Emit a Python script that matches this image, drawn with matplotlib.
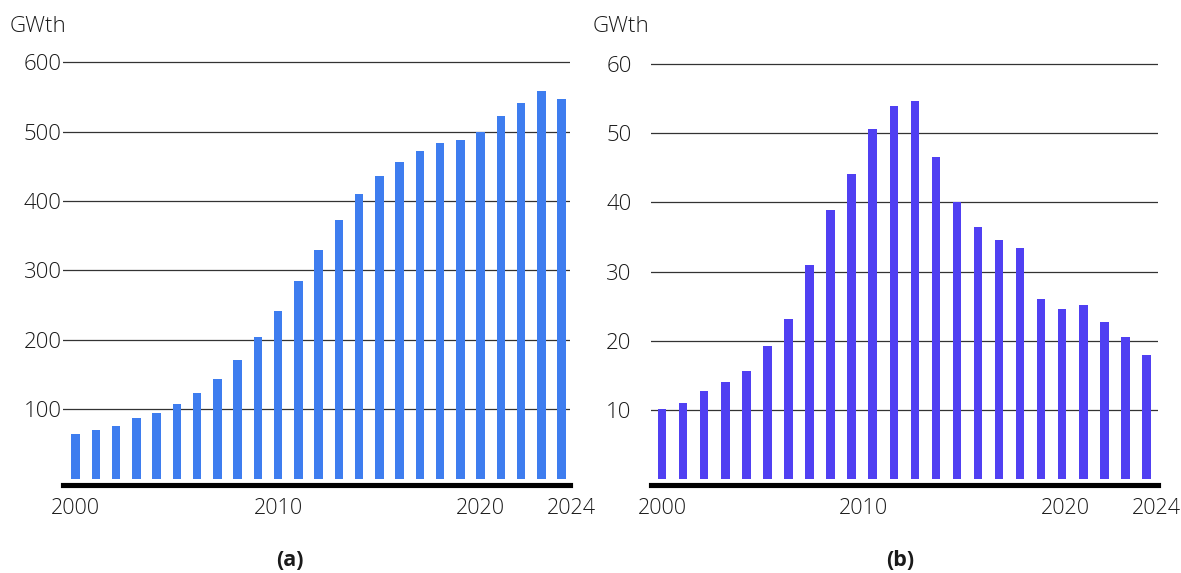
import numpy as np
import matplotlib
matplotlib.use("Agg")
import matplotlib.pyplot as plt
from matplotlib.transforms import ScaledTranslation

plt.rcParams["font.family"] = ["Open Sans", "DejaVu Sans"]
plt.rcParams["font.weight"] = "light"

# Cumulative installed capacity (GWth), 2000-2024
years_a = list(range(2000, 2025))
capacity_a = [64, 70, 75, 87, 94.5, 108, 124, 143.5, 171, 204.5, 242, 285, 329,
              373, 410, 436, 456, 472, 484, 488, 500, 523, 541.5, 559, 547]

# Newly added capacity (GWth) per year
added_b = [10.1, 11.0, 12.8, 14.0, 15.7, 19.3, 23.1, 30.9, 38.9, 44.1, 50.6, 53.9,
           54.7, 46.5, 40.0, 36.4, 34.5, 33.4, 26.1, 24.6, 25.2, 22.7, 20.5, 17.9]

xtick_years = [2000, 2010, 2020, 2024]
yticks_a = [100, 200, 300, 400, 500, 600]
yticks_b = [10, 20, 30, 40, 50, 60]

W, H = 1181, 573
fig = plt.figure(figsize=(W / 100, H / 100), dpi=100)

TEXT = "#1a1a1a"
GRID = "#333333"


def style(ax, yticks, ypad):
    for s in ("left", "right", "top"):
        ax.spines[s].set_visible(False)
    ax.spines["bottom"].set_color("black")
    ax.spines["bottom"].set_linewidth(3.7)
    ax.set_yticks(yticks)
    ax.set_yticklabels([str(v) for v in yticks])
    ax.set_xticks(xtick_years)
    ax.set_xticklabels([str(v) for v in xtick_years])
    ax.tick_params(axis="y", length=0, pad=ypad, labelsize=16, labelcolor=TEXT)
    ax.tick_params(axis="x", length=0, pad=10, labelsize=15.5, labelcolor=TEXT)
    ax.yaxis.grid(True, color=GRID, linewidth=0.9)
    ax.set_axisbelow(True)
    # nudge the last year label to the right
    lbl = ax.get_xticklabels()[-1]
    lbl.set_transform(lbl.get_transform() + ScaledTranslation(10 / 100, 0, fig.dpi_scale_trans))


# (a) cumulative capacity
ax1 = fig.add_axes([63 / W, 0.15445, (570 - 63) / W, 0.74014])
ax1.bar(years_a, capacity_a, width=0.42, color="#3E7DEF", zorder=2)
ax1.set_xlim(1999.38, 2024.42)
ax1.set_ylim(-8.65, 603)
style(ax1, yticks_a, 1)

# (b) annual additions
ax2 = fig.add_axes([651 / W, 0.15445, (1158 - 651) / W, 0.73752])
x_b = np.linspace(2000, 2024, len(added_b))
ax2.bar(x_b, added_b, width=0.42, color="#5040F2", zorder=2)
ax2.set_xlim(1999.45, 2024.57)
ax2.set_ylim(-0.77, 60.3)
style(ax2, yticks_b, 14)

fig.text(10 / W, 1 - 27 / H, "GWth", ha="left", va="center", fontsize=16, color=TEXT)
fig.text(593 / W, 1 - 27 / H, "GWth", ha="left", va="center", fontsize=16, color=TEXT)
fig.text(290 / W, 1 - 560 / H, "(a)", ha="center", va="center", fontsize=15.5,
         fontweight="bold", color=TEXT)
fig.text(900 / W, 1 - 560 / H, "(b)", ha="center", va="center", fontsize=15.5,
         fontweight="bold", color=TEXT)

fig.savefig("out.png", dpi=100, facecolor="white")
